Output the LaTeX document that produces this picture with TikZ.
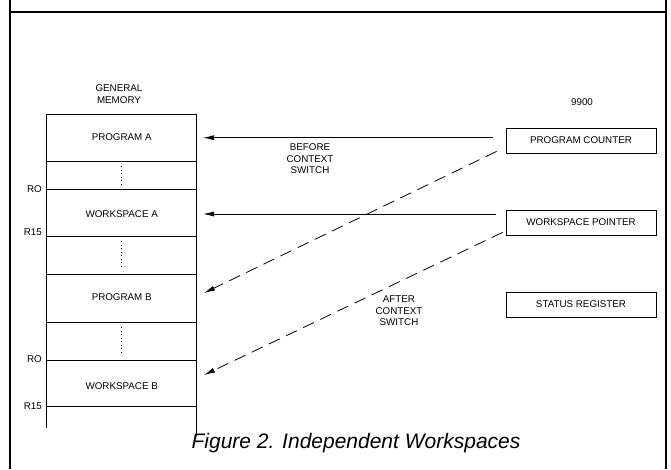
\documentclass[tikz,border=0pt]{standalone}
\usepackage{fontspec}
\setmainfont{Liberation Sans}
\usetikzlibrary{arrows.meta}
\begin{document}
\begin{tikzpicture}[x=1pt,y=-1pt,
  lbl/.style={font=\fontsize{9.8}{11.6}\selectfont, inner sep=0pt, align=center},
  reg/.style={draw, line width=0.8pt, minimum width=150pt, minimum height=25pt, inner sep=0pt, font=\fontsize{9.8}{11.6}\selectfont},
  thinline/.style={line width=0.8pt},
  arr/.style={line width=0.8pt, -{Latex[length=11pt,width=5pt]}},
  darr/.style={arr, dash pattern=on 12pt off 7pt},
  dotcol/.style={line width=1.2pt, dash pattern=on 1.2pt off 2.3pt}]
\useasboundingbox (0,0) rectangle (671,469);
% frame
\draw[line width=2pt] (10,0) -- (10,469) (666,0) -- (666,469) (10,12) -- (666,12);
% memory column
\draw[thinline] (46.7,114) -- (46.7,428) (196.7,114) -- (196.7,436);
\foreach \yy in {114,161,189,236,274,322,360,406}
  \draw[thinline] (46.7,\yy) -- (196.7,\yy);
\draw[dotcol] (121.7,166) -- (121.7,184);
\draw[dotcol] (121.7,241) -- (121.7,269);
\draw[dotcol] (121.7,327) -- (121.7,355);
% memory labels
\node[lbl] (gm) at (119,94) {GENERAL\\MEMORY};
\node[lbl] (pa) at (121.7,137.5) {PROGRAM A};
\node[lbl] (wa) at (121.7,214) {WORKSPACE A};
\node[lbl] (pb) at (121.7,297) {PROGRAM B};
\node[lbl] (wb) at (121.7,386) {WORKSPACE B};
\node[lbl,anchor=east] (r0a) at (42,189) {RO};
\node[lbl,anchor=east] (r15a) at (42,232) {R15};
\node[lbl,anchor=east] (r0b) at (42,359) {RO};
\node[lbl,anchor=east] (r15b) at (42,406) {R15};
% 9900 registers
\node[lbl] (cpu) at (582,102) {9900};
\node[reg] (pc) at (581,140.5) {PROGRAM COUNTER};
\node[reg] (wp) at (581,222.5) {WORKSPACE POINTER};
\node[reg] (sr) at (581,304.5) {STATUS REGISTER};
% arrow end points
\coordinate (tA) at (203,137.7);
\coordinate (tWA) at (203,214);
\coordinate (tPB) at (204,293);
\coordinate (tWB) at (204,375);
% before context switch
\draw[arr] ([xshift=-13pt]pc.west |- tA) -- (tA);
\draw[arr] ([xshift=-10pt]wp.west |- tWA) -- (tWA);
\node[lbl] (before) at (310,159) {BEFORE\\CONTEXT\\SWITCH};
% after context switch
\draw[darr] ([shift={(-9,-2)}]pc.south west) -- (tPB);
\draw[darr] ([shift={(-3,-3)}]wp.south west) -- (tWB);
\node[lbl] (after) at (399,311) {AFTER\\CONTEXT\\SWITCH};
% caption
\node[font=\fontsize{21}{24}\selectfont\itshape, inner sep=0pt] (cap) at (356,443) {Figure 2. Independent Workspaces};
\end{tikzpicture}
\end{document}
